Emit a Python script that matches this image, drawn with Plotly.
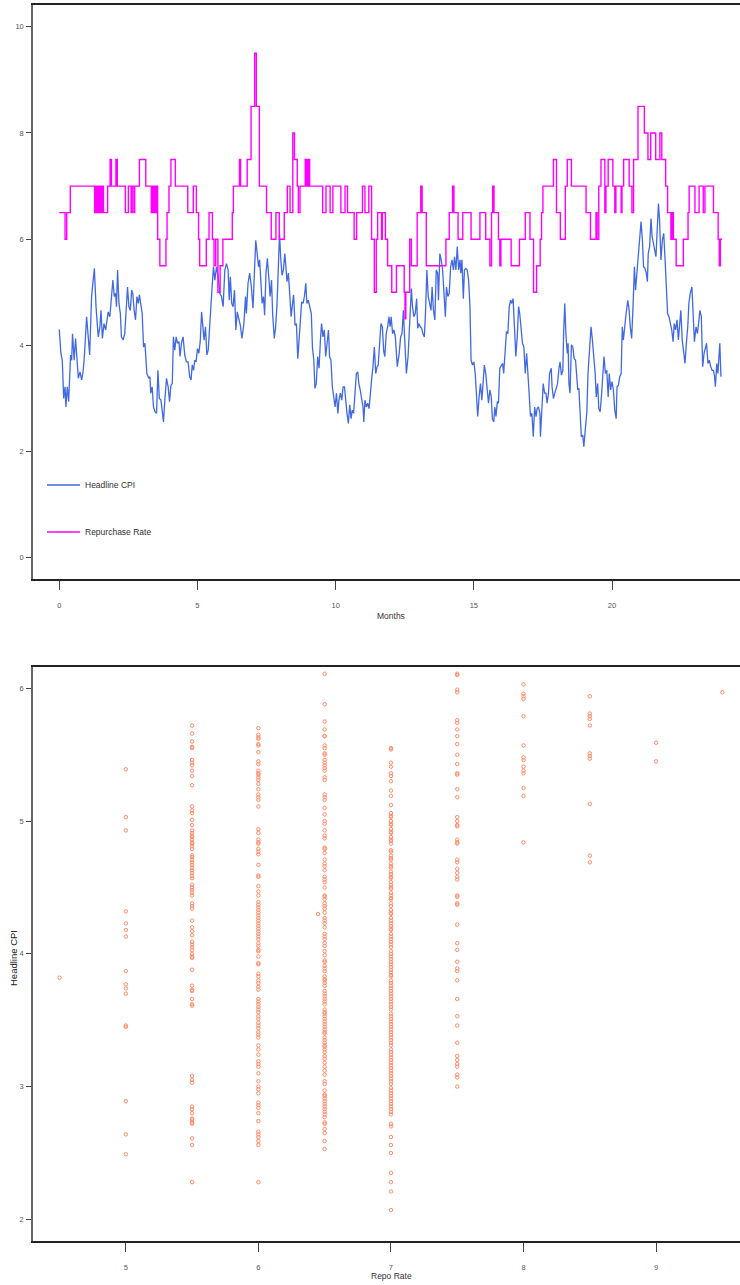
import plotly.graph_objects as go

# ---------------- Top panel data (months vs. rates) ----------------
months = [
    0.00, 0.06, 0.11, 0.16, 0.21, 0.24, 0.29, 0.34, 0.41, 0.45,
    0.48, 0.54, 0.59, 0.64, 0.69, 0.75, 0.81, 0.86, 0.90, 0.99,
    1.05, 1.10, 1.17, 1.27, 1.33, 1.41, 1.47, 1.51, 1.56, 1.62,
    1.68, 1.72, 1.77, 1.83, 1.89, 1.94, 1.99, 2.04, 2.07, 2.11,
    2.16, 2.21, 2.25, 2.31, 2.37, 2.42, 2.47, 2.52, 2.57, 2.62,
    2.66, 2.71, 2.76, 2.81, 2.86, 2.90, 2.95, 3.00, 3.05, 3.10,
    3.17, 3.24, 3.28, 3.31, 3.36, 3.41, 3.46, 3.52, 3.57, 3.62,
    3.68, 3.72, 3.77, 3.82, 3.88, 3.94, 3.99, 4.04, 4.09, 4.13,
    4.18, 4.23, 4.28, 4.33, 4.37, 4.42, 4.48, 4.54, 4.60, 4.66,
    4.72, 4.77, 4.81, 4.86, 4.90, 4.95, 5.00, 5.05, 5.10, 5.15,
    5.19, 5.24, 5.29, 5.34, 5.39, 5.44, 5.48, 5.53, 5.58, 5.63,
    5.69, 5.75,
    5.81, 5.87, 5.93, 5.99, 6.05, 6.11, 6.15, 6.19, 6.24, 6.29,
    6.34, 6.39, 6.44, 6.50, 6.55, 6.61, 6.68, 6.74, 6.77, 6.83,
    6.89, 6.95, 7.01, 7.06, 7.11, 7.16, 7.21, 7.25, 7.30, 7.34,
    7.39, 7.43, 7.48, 7.53, 7.58, 7.63, 7.68, 7.72, 7.78, 7.83,
    7.88, 7.93, 7.97, 8.01, 8.06, 8.11, 8.16, 8.20, 8.24, 8.29,
    8.34, 8.39, 8.44, 8.48, 8.53, 8.58, 8.63, 8.68, 8.72, 8.77,
    8.82, 8.87, 8.92, 8.96, 9.01, 9.06, 9.12, 9.16, 9.21, 9.25,
    9.30, 9.35, 9.40, 9.45, 9.49, 9.54, 9.59, 9.64, 9.69, 9.74,
    9.78, 9.83, 9.88, 9.93, 9.98, 10.03, 10.08, 10.12, 10.17, 10.22,
    10.27, 10.32, 10.36, 10.41, 10.46, 10.51, 10.56, 10.60, 10.65, 10.70,
    10.75, 10.80, 10.84, 10.89, 10.94, 10.99, 11.02, 11.06, 11.11, 11.16,
    11.21, 11.25, 11.30, 11.35, 11.40, 11.45, 11.50, 11.54, 11.59, 11.64,
    11.69, 11.74, 11.78, 11.83, 11.88, 11.93,
    11.97, 12.01, 12.06, 12.11, 12.16, 12.23, 12.30, 12.35, 12.40, 12.45,
    12.50, 12.56, 12.62, 12.68, 12.74, 12.78, 12.83, 12.88, 12.93, 12.97,
    13.01, 13.06, 13.11, 13.16, 13.21, 13.25, 13.30, 13.35, 13.40, 13.45,
    13.49, 13.54, 13.59, 13.64, 13.69, 13.72, 13.77, 13.82, 13.87, 13.92,
    13.97, 14.01, 14.06, 14.11, 14.16, 14.21, 14.26, 14.30, 14.35, 14.40,
    14.45, 14.50, 14.53, 14.57, 14.62, 14.66, 14.71, 14.76, 14.81, 14.86,
    14.90, 14.95, 15.00, 15.05, 15.10, 15.14, 15.19, 15.24, 15.29, 15.34,
    15.38, 15.43, 15.48, 15.53, 15.58, 15.63, 15.67, 15.72, 15.76, 15.80,
    15.85, 15.89, 15.94, 15.99, 16.04, 16.08, 16.13, 16.18, 16.23, 16.28,
    16.33, 16.37, 16.42, 16.47, 16.52, 16.57, 16.62, 16.66, 16.71, 16.76,
    16.81, 16.86, 16.91, 16.95, 17.00, 17.05, 17.10, 17.15, 17.20, 17.25,
    17.29, 17.34, 17.39, 17.41, 17.46, 17.51, 17.56, 17.61, 17.65, 17.70,
    17.74, 17.80, 17.83, 17.88, 17.93, 17.98, 18.03, 18.08, 18.12, 18.17,
    18.22, 18.25, 18.29, 18.33, 18.38, 18.41, 18.44, 18.48, 18.53, 18.58,
    18.63, 18.68, 18.72, 18.76, 18.80, 18.84, 18.89, 18.94, 18.98, 19.03,
    19.09, 19.13, 19.18, 19.24, 19.29, 19.34, 19.39, 19.43, 19.48, 19.52,
    19.57, 19.62, 19.66, 19.71, 19.76, 19.81, 19.86, 19.90, 19.95, 20.00,
    20.05, 20.10, 20.15, 20.18, 20.23, 20.28, 20.33, 20.37, 20.41, 20.46,
    20.51, 20.57, 20.62, 20.66, 20.71, 20.76, 20.81, 20.85, 20.90, 20.95,
    21.00, 21.05, 21.10, 21.14, 21.19, 21.24, 21.28, 21.31, 21.36, 21.41,
    21.45, 21.50, 21.55, 21.59, 21.64, 21.68, 21.72, 21.77, 21.82, 21.87,
    21.92, 21.96, 22.01, 22.06, 22.11, 22.16, 22.21, 22.25, 22.30, 22.35,
    22.40, 22.45, 22.49, 22.54, 22.59, 22.64, 22.69, 22.74, 22.78, 22.83,
    22.89, 22.94, 22.98, 23.04, 23.09, 23.13, 23.18, 23.23, 23.28, 23.33,
    23.37, 23.42, 23.47, 23.52, 23.57, 23.62, 23.67, 23.71, 23.74, 23.79,
    23.83, 23.87, 23.90, 23.94,
]

headline_cpi = [
    4.30, 3.85, 3.72, 3.00, 3.22, 2.84, 3.22, 2.94, 3.82, 3.72,
    4.22, 3.72, 4.13, 3.79, 3.38, 3.50, 3.35, 3.50, 3.72, 4.54,
    4.04, 3.82, 4.92, 5.45, 4.73, 4.16, 4.35, 4.66, 4.13, 4.41,
    4.29, 4.41, 4.63, 4.54, 4.85, 5.23, 4.92, 4.98, 4.73, 5.42,
    4.79, 4.60, 4.16, 4.10, 4.22, 4.73, 5.10, 4.73, 4.66, 5.04,
    4.98, 4.66, 4.48, 4.92, 4.79, 4.95, 4.73, 4.60, 3.97, 4.04,
    3.47, 3.38, 3.41, 3.10, 3.22, 2.84, 2.75, 2.72, 3.53, 3.00,
    2.97, 2.78, 2.56, 2.97, 3.38, 3.22, 2.94, 3.25, 3.28, 4.16,
    3.91, 4.16, 4.04, 4.07, 3.79, 4.04, 4.16, 3.82, 3.69, 3.69,
    3.41, 3.35, 3.63, 3.53, 3.72, 3.69, 3.94, 3.85, 4.07, 4.63,
    4.41, 4.10, 4.35, 3.82, 3.91, 4.35, 4.88, 5.10, 5.48, 5.23,
    5.48, 5.29,
    4.98, 4.92, 4.73, 5.42, 5.54, 5.42, 4.85, 5.29, 4.79, 4.73,
    5.04, 4.29, 4.63, 4.48, 4.38, 4.13, 4.41, 4.92, 4.60, 5.17,
    5.36, 5.10, 4.70, 5.36, 5.98, 5.73, 5.48, 5.61, 5.23, 4.79,
    4.92, 4.57, 5.36, 5.64, 5.29, 4.92, 5.23, 4.60, 4.13, 4.35,
    4.79, 5.73, 6.11, 5.67, 5.32, 5.42, 5.73, 5.48, 5.20, 5.36,
    4.98, 4.54, 4.79, 4.95, 4.38, 4.41, 3.75, 4.22, 4.54, 4.82,
    4.79, 4.92, 5.17, 4.79, 4.85, 4.73, 4.60, 3.97, 3.72, 3.19,
    3.28, 3.79, 3.57, 4.10, 4.41, 4.16, 4.29, 3.79, 4.10, 4.29,
    3.79, 3.72, 3.22, 2.97, 2.84, 3.10, 2.72, 2.97, 3.10, 2.97,
    3.22, 3.22, 2.91, 2.72, 2.53, 2.88, 2.62, 2.78, 2.72, 3.19,
    3.47, 3.50, 3.28, 3.16, 3.03, 2.84, 2.56, 2.97, 2.84, 2.91,
    2.81, 3.10, 3.35, 3.60, 3.97, 3.47, 3.60, 3.63, 4.16, 4.41,
    4.35, 3.88, 3.79, 4.22, 4.35, 4.54,
    4.35, 4.54, 4.22, 4.29, 4.16, 3.60, 3.85, 4.16, 4.22, 4.66,
    4.10, 3.47, 3.79, 4.54, 5.07, 4.73, 4.54, 4.60, 4.88, 4.32,
    4.41, 4.35, 4.32, 4.22, 4.16, 4.60, 5.42, 4.92, 4.79, 4.66,
    5.10, 4.66, 4.48, 5.42, 5.36, 4.85, 5.73, 5.61, 5.42, 4.92,
    4.54, 5.10, 4.92, 4.98, 5.48, 5.61, 5.42, 5.67, 5.42, 5.86,
    5.42, 5.61, 5.36, 5.61, 4.88, 5.42, 5.45, 5.42, 5.23, 4.73,
    3.72, 3.63, 3.69, 3.47, 3.03, 2.66, 3.03, 3.28, 2.97, 3.47,
    3.63, 3.47, 3.10, 2.91, 3.16, 3.03, 2.62, 2.56, 2.84, 2.66,
    2.94, 2.91, 3.57, 3.63, 3.66, 3.47, 3.79, 4.26, 4.22, 4.73,
    4.85, 4.79, 4.88, 4.29, 3.79, 4.16, 4.73, 4.60, 4.35, 4.04,
    3.97, 3.47, 3.85, 3.41, 3.10, 2.66, 2.72, 2.28, 2.84, 2.66,
    2.81, 2.84, 2.72, 2.28, 2.84, 3.28, 3.10, 3.10, 2.91, 3.10,
    3.47, 3.57, 3.22, 3.00, 3.10, 3.22, 3.28, 3.57, 3.69, 3.44,
    3.53, 4.26, 4.79, 4.22, 3.85, 4.04, 3.28, 3.10, 4.01, 3.97,
    3.75, 3.72, 3.35, 3.16, 3.19, 2.72, 2.28, 2.31, 2.09, 2.40,
    2.75, 3.47, 3.97, 4.35, 4.10, 3.79, 3.47, 3.03, 3.28, 2.81,
    2.75, 3.06, 3.41, 3.79, 3.47, 3.53, 3.03, 3.47, 3.16, 3.32,
    3.16, 2.78, 2.62, 3.22, 3.25, 3.41, 3.47, 4.35, 4.10, 4.41,
    4.60, 4.85, 4.66, 4.35, 4.13, 4.73, 5.48, 5.04, 5.36, 5.73,
    6.05, 6.33, 5.98, 5.48, 5.45, 5.36, 5.20, 5.73, 5.86, 6.39,
    6.05, 5.92, 5.80, 5.67, 6.24, 6.67, 6.36, 5.61, 5.98, 6.11,
    5.61, 5.17, 4.60, 4.54, 4.41, 4.29, 4.07, 4.41, 4.29, 4.48,
    4.10, 4.35, 4.66, 4.10, 3.91, 3.66, 4.04, 4.35, 4.79, 4.98,
    5.10, 4.60, 4.07, 4.35, 4.22, 4.41, 4.66, 4.54, 3.60, 3.85,
    3.97, 4.04, 3.66, 3.72, 3.60, 3.53, 3.53, 3.41, 3.22, 3.66,
    3.47, 3.72, 4.04, 3.41,
]

# Repurchase rate: month at which each level starts
repo_months = [
    0.00, 0.21, 0.27, 0.40, 1.28, 1.31, 1.35, 1.39, 1.43, 1.47,
    1.52, 1.56, 1.60, 1.75, 1.84, 1.89, 2.05, 2.10, 2.39, 2.50,
    2.60, 2.64, 2.70, 2.73, 2.90, 3.13, 3.33, 3.37, 3.41, 3.45,
    3.50, 3.53, 3.56, 3.64, 3.86, 3.90, 3.97, 4.04, 4.20, 4.65,
    4.85, 4.96, 5.04, 5.08, 5.32, 5.42, 5.54, 5.60, 5.66, 5.74,
    5.82, 5.92, 6.26, 6.30, 6.52, 6.56, 6.80, 6.94, 7.07, 7.13,
    7.24, 7.50, 7.67, 7.84, 7.96, 8.14, 8.25, 8.35, 8.45, 8.51,
    8.61, 8.65, 8.71, 8.90, 8.94, 8.97, 9.00, 9.03, 9.06, 9.53,
    9.65, 9.80, 9.90, 10.19, 10.34, 10.43, 10.67, 10.76, 10.97, 11.06,
    11.20, 11.30, 11.40, 11.47, 11.52, 11.66, 11.69, 11.80, 11.88, 12.03,
    12.20, 12.48, 12.51, 12.54, 12.68, 12.74, 12.95, 13.08, 13.13, 13.28,
    13.99, 14.11, 14.23, 14.28, 14.43, 14.60, 14.90, 15.22, 15.43, 15.58,
    15.64, 15.68, 15.73, 15.89, 15.94, 15.98, 16.35, 16.65, 16.86, 17.03,
    17.16, 17.27, 17.40, 17.45, 17.50, 17.88, 17.99, 18.13, 18.31, 18.38,
    18.53, 19.06, 19.22, 19.42, 19.46, 19.52, 19.60, 19.74, 19.78, 19.86,
    20.03, 20.10, 20.14, 20.33, 20.36, 20.42, 20.62, 20.72, 20.78, 20.94,
    21.17, 21.30, 21.40, 21.58, 21.73, 21.80, 21.94, 22.01, 22.13, 22.18,
    22.22, 22.32, 22.58, 22.75, 22.79, 23.00, 23.15, 23.30, 23.36, 23.67,
    23.84, 23.88, 23.92, 23.98,
]
repo_rate = [
    6.5, 6.0, 6.5, 7.0, 6.5, 7.0, 6.5, 7.0, 6.5, 7.0,
    6.5, 7.0, 6.5, 7.0, 7.5, 7.0, 7.5, 7.0, 6.5, 7.0,
    6.5, 7.0, 6.5, 7.0, 7.5, 7.0, 6.5, 7.0, 6.5, 7.0,
    6.5, 7.0, 6.0, 5.5, 6.0, 6.5, 7.0, 7.5, 7.0, 6.5,
    7.0, 6.5, 6.0, 5.5, 6.0, 6.5, 6.0, 5.5, 6.0, 5.0,
    5.5, 6.0, 6.5, 7.0, 7.5, 7.0, 7.5, 8.5, 9.5, 8.5,
    7.0, 6.5, 6.0, 6.5, 6.0, 6.5, 7.0, 6.5, 8.0, 7.5,
    7.0, 6.5, 7.0, 7.5, 7.0, 7.5, 7.0, 7.5, 7.0, 6.5,
    7.0, 6.5, 7.0, 6.5, 7.0, 6.5, 6.0, 6.5, 7.0, 6.5,
    7.0, 6.0, 5.0, 6.0, 6.5, 6.0, 6.5, 6.0, 5.5, 5.0,
    5.5, 5.0, 4.5, 5.0, 6.0, 5.5, 6.5, 7.0, 6.5, 5.5,
    6.0, 6.5, 7.0, 6.5, 6.0, 6.5, 6.0, 6.5, 6.0, 5.5,
    6.5, 7.0, 6.5, 6.0, 5.5, 6.0, 5.5, 6.0, 6.5, 6.0,
    5.0, 5.5, 6.0, 6.5, 7.0, 7.5, 6.5, 6.0, 7.0, 7.5,
    7.0, 6.5, 6.0, 6.5, 6.0, 7.0, 7.5, 6.5, 7.0, 7.5,
    7.0, 6.5, 7.0, 6.5, 7.0, 7.5, 7.0, 6.5, 7.5, 8.5,
    8.0, 7.5, 8.0, 7.5, 8.0, 7.5, 7.0, 6.5, 6.0, 6.5,
    6.0, 5.5, 6.0, 6.5, 7.0, 6.5, 7.0, 6.5, 7.0, 6.5,
    6.0, 5.5, 6.0, 6.0,
]

top_xticks = [0, 5, 10, 15, 20]
top_yticks = [0, 2, 4, 6, 8, 10]

# ---------------- Bottom panel data (repo rate vs. CPI) ----------------
cpi_at_repo_4_5 = [3.82]
cpi_at_repo_5_0 = [5.39, 5.03, 4.93, 4.32, 4.23, 4.18, 4.13, 3.87, 3.77, 3.74,
                   3.70, 3.46, 3.45, 2.89, 2.64, 2.49]
cpi_at_repo_5_5 = [5.72, 5.66, 5.60, 5.56, 5.55, 5.46, 5.44, 5.42, 5.38, 5.34,
                   5.27, 5.11, 5.08, 5.06, 5.01, 4.97, 4.93, 4.91, 4.89, 4.88,
                   4.86, 4.84, 4.83, 4.81, 4.79, 4.74, 4.73, 4.71, 4.69, 4.67,
                   4.65, 4.63, 4.61, 4.59, 4.57, 4.52, 4.50, 4.48, 4.46, 4.44,
                   4.38, 4.36, 4.34, 4.25, 4.20, 4.17, 4.14, 4.09, 4.07, 4.05,
                   4.03, 4.00, 3.98, 3.97, 3.88, 3.76, 3.73, 3.72, 3.66, 3.62,
                   3.61, 3.08, 3.05, 3.03, 2.85, 2.83, 2.80, 2.76, 2.75, 2.73,
                   2.72, 2.61, 2.56, 2.28]
cpi_at_repo_6_0 = [5.70, 5.65, 5.63, 5.62, 5.58, 5.57, 5.52, 5.45, 5.43, 5.38,
                   5.36, 5.35, 5.33, 5.31, 5.28, 5.24, 5.20, 5.18, 5.16, 5.11,
                   4.94, 4.91, 4.86, 4.84, 4.83, 4.79, 4.77, 4.75, 4.67, 4.59,
                   4.58, 4.51, 4.47, 4.44, 4.39, 4.37, 4.35, 4.33, 4.31, 4.29,
                   4.27, 4.25, 4.23, 4.21, 4.19, 4.17, 4.15, 4.13, 4.11, 4.08,
                   4.06, 4.03, 4.02, 3.98, 3.93, 3.92, 3.85, 3.83, 3.80, 3.78,
                   3.75, 3.73, 3.66, 3.64, 3.62, 3.60, 3.58, 3.56, 3.53, 3.51,
                   3.48, 3.46, 3.44, 3.41, 3.39, 3.37, 3.31, 3.28, 3.24, 3.19,
                   3.17, 3.15, 3.10, 3.04, 3.00, 2.98, 2.95, 2.88, 2.86, 2.84,
                   2.80, 2.74, 2.66, 2.64, 2.62, 2.59, 2.56, 2.28]
cpi_at_repo_6_45 = [4.30]
cpi_at_repo_6_5 = [6.11, 5.88, 5.75, 5.69, 5.64, 5.64, 5.57, 5.55, 5.51, 5.50,
                   5.46, 5.44, 5.42, 5.40, 5.38, 5.33, 5.31, 5.20, 5.18, 5.16,
                   5.10, 5.05, 5.00, 4.98, 4.93, 4.89, 4.87, 4.80, 4.79, 4.76,
                   4.71, 4.68, 4.66, 4.63, 4.58, 4.56, 4.54, 4.50, 4.44, 4.43,
                   4.41, 4.38, 4.36, 4.34, 4.31, 4.27, 4.25, 4.23, 4.20, 4.15,
                   4.13, 4.11, 4.08, 4.06, 4.02, 3.99, 3.95, 3.94, 3.91, 3.89,
                   3.87, 3.83, 3.81, 3.80, 3.78, 3.76, 3.72, 3.70, 3.68, 3.66,
                   3.64, 3.62, 3.58, 3.56, 3.55, 3.53, 3.51, 3.49, 3.47, 3.45,
                   3.43, 3.41, 3.40, 3.37, 3.35, 3.33, 3.31, 3.30, 3.28, 3.26,
                   3.23, 3.21, 3.18, 3.15, 3.12, 3.09, 3.04, 3.02, 2.97, 2.94,
                   2.93, 2.91, 2.89, 2.87, 2.85, 2.83, 2.81, 2.79, 2.77, 2.73,
                   2.72, 2.68, 2.65, 2.59, 2.53]
cpi_at_repo_7_0 = [5.55, 5.54, 5.44, 5.41, 5.36, 5.34, 5.30, 5.23, 5.19, 5.12,
                   5.06, 5.04, 5.03, 5.00, 4.98, 4.97, 4.94, 4.92, 4.91, 4.88,
                   4.86, 4.85, 4.83, 4.78, 4.77, 4.74, 4.72, 4.71, 4.68, 4.66,
                   4.65, 4.62, 4.60, 4.58, 4.57, 4.54, 4.52, 4.50, 4.49, 4.46,
                   4.44, 4.42, 4.41, 4.38, 4.36, 4.33, 4.31, 4.30, 4.27, 4.25,
                   4.23, 4.21, 4.19, 4.18, 4.15, 4.13, 4.11, 4.09, 4.07, 4.05,
                   4.02, 4.00, 3.98, 3.96, 3.94, 3.92, 3.90, 3.88, 3.86, 3.84,
                   3.83, 3.80, 3.78, 3.76, 3.74, 3.72, 3.70, 3.68, 3.66, 3.64,
                   3.62, 3.60, 3.58, 3.55, 3.53, 3.51, 3.49, 3.47, 3.45, 3.43,
                   3.41, 3.39, 3.37, 3.35, 3.33, 3.31, 3.28, 3.26, 3.24, 3.22,
                   3.20, 3.18, 3.16, 3.14, 3.12, 3.10, 3.08, 3.06, 3.04, 3.02,
                   2.99, 2.97, 2.95, 2.93, 2.91, 2.89, 2.87, 2.85, 2.83, 2.81,
                   2.79, 2.72, 2.70, 2.62, 2.56, 2.50, 2.35, 2.28, 2.21, 2.07]
cpi_at_repo_7_5 = [6.11, 6.10, 5.99, 5.97, 5.76, 5.74, 5.69, 5.64, 5.58, 5.50,
                   5.43, 5.36, 5.35, 5.24, 5.18, 5.03, 5.00, 4.97, 4.96, 4.86,
                   4.84, 4.83, 4.71, 4.69, 4.64, 4.61, 4.58, 4.56, 4.44, 4.43,
                   4.38, 4.37, 4.22, 4.08, 4.03, 3.94, 3.89, 3.87, 3.80, 3.66,
                   3.53, 3.46, 3.33, 3.23, 3.20, 3.17, 3.15, 3.09, 3.07, 3.00]
cpi_at_repo_8_0 = [6.03, 5.96, 5.94, 5.92, 5.79, 5.57, 5.48, 5.46, 5.41, 5.38,
                   5.36, 5.25, 5.19, 4.84]
cpi_at_repo_8_5 = [5.94, 5.81, 5.79, 5.77, 5.72, 5.51, 5.49, 5.47, 5.13, 4.74,
                   4.69]
cpi_at_repo_9_0 = [5.59, 5.45]
cpi_at_repo_9_5 = [5.97]

scatter_groups = [
    (4.5, cpi_at_repo_4_5), (5.0, cpi_at_repo_5_0), (5.5, cpi_at_repo_5_5),
    (6.0, cpi_at_repo_6_0), (6.45, cpi_at_repo_6_45), (6.5, cpi_at_repo_6_5),
    (7.0, cpi_at_repo_7_0), (7.5, cpi_at_repo_7_5), (8.0, cpi_at_repo_8_0),
    (8.5, cpi_at_repo_8_5), (9.0, cpi_at_repo_9_0), (9.5, cpi_at_repo_9_5),
]
bottom_xticks = [5, 6, 7, 8, 9]
bottom_yticks = [2, 3, 4, 5, 6]

scatter_x, scatter_y = [], []
for rate, vals in scatter_groups:
    scatter_x += [rate] * len(vals)
    scatter_y += vals

# ---------------- Figure ----------------
NARROW = "Liberation Sans Narrow, Arial Narrow, Liberation Sans, Arial, sans-serif"
REG = "Liberation Sans, Arial, sans-serif"
W, H = 740, 1285

fig = go.Figure()
fig.add_trace(go.Scatter(
    x=months, y=headline_cpi, mode="lines", name="Headline CPI",
    line=dict(color="#4169E1", width=1.3), legend="legend",
    xaxis="x", yaxis="y"))
fig.add_trace(go.Scatter(
    x=repo_months, y=repo_rate, mode="lines", name="Repurchase Rate",
    line=dict(color="#FF00FF", width=1.4, shape="hv"), legend="legend2",
    xaxis="x", yaxis="y"))
fig.add_trace(go.Scatter(
    x=scatter_x, y=scatter_y, mode="markers", showlegend=False,
    marker=dict(symbol="circle-open", size=3.5, color="#FF8C69",
                line=dict(width=1, color="#FF8C69")),
    xaxis="x2", yaxis="y2"))

def px_x(p):
    return p / W

def px_y(p):
    return (H - p) / H

tick_font = dict(family=NARROW, size=7.5, color="#555555")
common_x = dict(ticks="outside", ticklen=9, tickwidth=1, tickcolor="#444444",
                showline=True, linecolor="#222222", linewidth=2, mirror=True,
                showgrid=False, zeroline=False, tickfont=tick_font,
                ticklabelstandoff=9)
common_y = dict(ticks="outside", ticklen=5, tickwidth=1, tickcolor="#444444",
                showline=True, linecolor="#666666", linewidth=1.5, mirror=False,
                showgrid=False, zeroline=False, tickfont=tick_font,
                ticklabelstandoff=1)

legend_font = dict(family=NARROW, size=8.5, color="#333333")

fig.update_layout(
    width=W, height=H,
    margin=dict(l=0, r=0, t=0, b=0),
    paper_bgcolor="white", plot_bgcolor="white",
    showlegend=True,
    xaxis=dict(domain=[px_x(33), 1.0], range=[-0.95, 24.63], tickvals=top_xticks,
               anchor="y", **common_x),
    yaxis=dict(domain=[px_y(578.5), px_y(5)], range=[-0.39, 10.41], tickvals=top_yticks,
               anchor="x", **common_y),
    xaxis2=dict(domain=[px_x(33), 1.0], range=[4.30, 9.633], tickvals=bottom_xticks,
                anchor="y2", **common_x),
    yaxis2=dict(domain=[px_y(1240.7), px_y(666.7)], range=[1.839, 6.163], tickvals=bottom_yticks,
                anchor="x2", **common_y),
    legend=dict(x=px_x(42), y=px_y(485), xanchor="left", yanchor="middle",
                bgcolor="rgba(0,0,0,0)", font=legend_font, itemwidth=33),
    legend2=dict(x=px_x(42), y=px_y(532), xanchor="left", yanchor="middle",
                 bgcolor="rgba(0,0,0,0)", font=legend_font, itemwidth=33),
    annotations=[
        dict(text="Months", x=px_x(391), y=px_y(616), xref="paper", yref="paper",
             showarrow=False, font=dict(family=NARROW, size=8.5, color="#333333"),
             xanchor="center", yanchor="middle"),
        dict(text="Repo Rate", x=px_x(391), y=px_y(1276), xref="paper", yref="paper",
             showarrow=False, font=dict(family=NARROW, size=8.5, color="#333333"),
             xanchor="center", yanchor="middle"),
        dict(text="Headline CPI", x=px_x(13), y=px_y(958), xref="paper", yref="paper",
             showarrow=False, textangle=-90, font=dict(family=REG, size=9.5, color="#222222"),
             xanchor="center", yanchor="middle"),
    ],
)

fig.write_html("out.html")
